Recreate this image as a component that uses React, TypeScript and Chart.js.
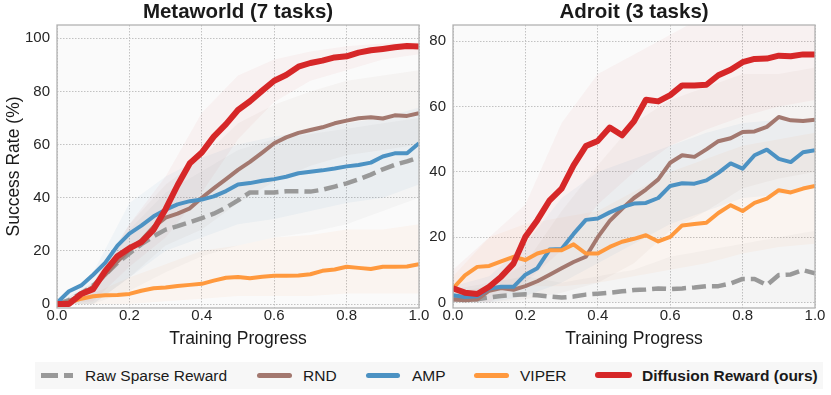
import React, { useEffect, useRef } from "react";
import { Chart, registerables } from "chart.js";

Chart.register(...registerables);

const FONT = "'Liberation Sans', Arial, Helvetica, sans-serif";

// ---------- shared axes / labels ----------
const PROGRESS = [
  0, 0.033, 0.067, 0.1, 0.133, 0.167, 0.2, 0.233, 0.267, 0.3, 0.333, 0.367, 0.4, 0.433, 0.467, 0.5,
  0.533, 0.567, 0.6, 0.633, 0.667, 0.7, 0.733, 0.767, 0.8, 0.833, 0.867, 0.9, 0.933, 0.967, 1.0,
];
const BAND_PROGRESS = [0, 0.1, 0.2, 0.3, 0.4, 0.5, 0.6, 0.7, 0.8, 0.9, 1.0];
const X_TICKS = [0, 0.2, 0.4, 0.6, 0.8, 1.0];
const MW_Y_TICKS = [0, 20, 40, 60, 80, 100];
const AD_Y_TICKS = [0, 20, 40, 60, 80];

const SERIES_LABELS = ["Raw Sparse Reward", "RND", "AMP", "VIPER", "Diffusion Reward (ours)"];
const SERIES_COLORS = ["#999999", "#a3786f", "#4c92c3", "#ff993e", "#d62728"];
const SERIES_RGB = ["127,127,127", "140,86,75", "31,119,180", "255,127,14", "214,39,40"];

// ---------- Metaworld (7 tasks) ----------
const MW_SPARSE = [0, 1.5, 4, 7, 11, 15.5, 19, 22.5, 25.5, 28, 29.3, 30.8, 32.3, 34, 36.3, 39, 42, 42, 42, 42.4, 42.4, 42.3, 43, 44.2, 45.4, 46.9, 48.7, 50.7, 52.4, 53.7, 55.2];
const MW_RND = [0, 1, 3.5, 6.5, 11, 16, 20.5, 24, 29, 32.5, 34, 36, 40, 43.5, 47, 50.5, 53.5, 57, 60.5, 62.7, 64.4, 65.5, 66.5, 68, 69, 69.9, 70.3, 69.8, 71, 70.8, 71.8];
const MW_AMP = [0.5, 4.8, 7, 11, 15.5, 22, 26.5, 29.5, 33, 35.5, 37.5, 38.7, 39.3, 40.5, 42.5, 45, 45.5, 46.4, 47, 47.9, 49.2, 49.8, 50.3, 51, 51.8, 52.3, 53.2, 55.5, 56.7, 56.7, 60.5];
const MW_VIPER = [0, 0.5, 2, 2.9, 3.3, 3.4, 3.8, 5, 5.9, 6.2, 6.8, 7.2, 7.6, 8.8, 9.9, 10.2, 9.7, 10.3, 10.6, 10.6, 10.7, 11.2, 12.5, 13, 14, 13.6, 13.2, 14, 14, 14.1, 15];
const MW_DIFF = [0, 0, 3.8, 5.6, 12.4, 18, 21, 23.3, 28, 35.7, 44.7, 53, 57, 63, 67.7, 73, 76.3, 80.3, 84, 86.2, 89.3, 90.7, 91.6, 92.8, 93.2, 94.6, 95.5, 96, 96.6, 97.1, 96.9];

const MW_SPARSE_LO = [0, 0, 5, 12, 18, 22, 25, 27, 30, 35, 40];
const MW_SPARSE_HI = [0, 6, 28, 42, 50, 58, 62, 64, 66, 68, 70];
const MW_RND_LO = [0, 0, 10, 22, 28, 38, 46, 52, 56, 58, 60];
const MW_RND_HI = [0, 8, 30, 45, 55, 68, 75, 80, 84, 86, 88];
const MW_AMP_LO = [0, 0, 10, 20, 25, 30, 32, 35, 38, 40, 45];
const MW_AMP_HI = [0, 12, 38, 48, 55, 60, 63, 65, 68, 70, 74];
const MW_VIPER_LO = [0, 0, 0, 1, 2, 3, 3, 3, 4, 4, 4];
const MW_VIPER_HI = [0, 4, 10, 15, 20, 22, 25, 26, 28, 28, 30];
const MW_DIFF_LO = [0, 1, 14, 25, 42, 62, 76, 84, 88, 92, 94];
const MW_DIFF_HI = [0, 8, 30, 48, 72, 86, 92, 95, 97, 98, 98.5];

// ---------- Adroit (3 tasks) ----------
const AD_SPARSE = [1, 1.2, 1, 1.5, 2, 2.3, 2.5, 2.2, 1.8, 1.5, 1.8, 2.4, 2.7, 3, 3.4, 3.8, 4, 4.3, 4.1, 4.3, 4.6, 5, 5, 5.8, 7.2, 7.2, 5.3, 8.4, 8.6, 9.9, 8.9];
const AD_RND = [0.9, 0.7, 0.9, 3.6, 4.4, 3.9, 5, 6.5, 8.5, 10.5, 12.4, 14, 20, 25, 28.7, 32, 34.6, 37.7, 42.8, 45.1, 44.6, 46.9, 49.4, 50.3, 52.2, 52.4, 53.8, 56.8, 55.8, 55.6, 56];
const AD_AMP = [2.2, 1.7, 1.9, 4.3, 4.8, 4.8, 8.5, 10.5, 16.2, 16.4, 21, 25.3, 25.7, 27.6, 29.2, 30.3, 30.5, 32, 35.7, 36.5, 36.4, 37.4, 39.7, 42.6, 41, 45.1, 46.8, 44, 43, 46, 46.6];
const AD_VIPER = [4.3, 8.3, 10.9, 11.2, 12.6, 14, 13, 15, 16, 16, 17.8, 15, 15, 17, 18.6, 19.5, 20.6, 18.7, 20.1, 23.6, 24, 24.4, 27.4, 29.8, 28, 30.5, 31.8, 34.4, 33.7, 34.9, 35.7];
const AD_DIFF = [4.3, 3, 2.6, 4.8, 7.9, 11.9, 20.1, 25.2, 31.3, 34.9, 42, 47.9, 49.5, 53.6, 51.2, 55.5, 62.1, 61.6, 63.5, 66.5, 66.5, 66.7, 69.6, 71.3, 73.6, 74.6, 74.7, 75.6, 75.4, 76, 76];

const AD_SPARSE_LO = [0, 0, 0, 0, 0, 0, 0, 0, 0, 0, 0];
const AD_SPARSE_HI = [4, 6, 8, 6, 8, 10, 14, 16, 18, 20, 22];
const AD_RND_LO = [0, 0, 1, 3, 6, 12, 22, 28, 35, 38, 40];
const AD_RND_HI = [3, 5, 12, 28, 42, 55, 62, 66, 70, 70, 72];
const AD_AMP_LO = [0, 0, 2, 6, 12, 18, 24, 28, 32, 33, 35];
const AD_AMP_HI = [5, 8, 18, 32, 40, 44, 48, 52, 55, 56, 56];
const AD_VIPER_LO = [1, 3, 5, 5, 6, 8, 10, 12, 15, 17, 18];
const AD_VIPER_HI = [8, 20, 24, 26, 28, 34, 40, 44, 48, 50, 52];
const AD_DIFF_LO = [1, 0, 6, 16, 30, 40, 48, 53, 57, 60, 62];
const AD_DIFF_HI = [10, 20, 30, 55, 70, 76, 82, 88, 92, 93, 94];

const MW_MEANS = [MW_SPARSE, MW_RND, MW_AMP, MW_VIPER, MW_DIFF];
const MW_LOWS = [MW_SPARSE_LO, MW_RND_LO, MW_AMP_LO, MW_VIPER_LO, MW_DIFF_LO];
const MW_HIGHS = [MW_SPARSE_HI, MW_RND_HI, MW_AMP_HI, MW_VIPER_HI, MW_DIFF_HI];
const AD_MEANS = [AD_SPARSE, AD_RND, AD_AMP, AD_VIPER, AD_DIFF];
const AD_LOWS = [AD_SPARSE_LO, AD_RND_LO, AD_AMP_LO, AD_VIPER_LO, AD_DIFF_LO];
const AD_HIGHS = [AD_SPARSE_HI, AD_RND_HI, AD_AMP_HI, AD_VIPER_HI, AD_DIFF_HI];

const toPoints = (xs: number[], ys: number[]) => ys.map((y, i) => ({ x: xs[i], y }));

function buildDatasets(means: number[][], lows: number[][], highs: number[][]) {
  const ds: any[] = [];
  for (let k = 0; k < means.length; k++) {
    ds.push({
      data: toPoints(BAND_PROGRESS, lows[k]),
      borderWidth: 0,
      pointRadius: 0,
      fill: false,
      order: 20 + k,
    });
    ds.push({
      data: toPoints(BAND_PROGRESS, highs[k]),
      borderWidth: 0,
      pointRadius: 0,
      fill: "-1",
      backgroundColor: `rgba(${SERIES_RGB[k]},0.045)`,
      order: 20 + k,
    });
  }
  for (let k = 0; k < means.length; k++) {
    ds.push({
      label: SERIES_LABELS[k],
      data: toPoints(PROGRESS, means[k]),
      borderColor: SERIES_COLORS[k],
      borderWidth: k === 4 ? 6 : k === 0 ? 4.5 : 4,
      borderDash: k === 0 ? [14, 6] : [],
      borderJoinStyle: "round",
      borderCapStyle: "butt",
      pointRadius: 0,
      fill: false,
      tension: 0,
      order: 5 - k,
    });
  }
  return ds;
}

const framePlugin = {
  id: "frame",
  beforeDraw(chart: any) {
    const { ctx, chartArea: a } = chart;
    ctx.save();
    ctx.fillStyle = "#fafafa";
    ctx.fillRect(a.left, a.top, a.right - a.left, a.bottom - a.top);
    ctx.restore();
  },
  afterDraw(chart: any) {
    const { ctx, chartArea: a } = chart;
    ctx.save();
    ctx.strokeStyle = "#b3b3b3";
    ctx.lineWidth = 1.3;
    ctx.strokeRect(a.left, a.top, a.right - a.left, a.bottom - a.top);
    ctx.restore();
  },
};

interface PanelProps {
  title: string;
  means: number[][];
  lows: number[][];
  highs: number[][];
  yTicks: number[];
  yMin: number;
  yMax: number;
  yTitle: string | null;
  width: number;
  height: number;
  yAxisWidth: number;
  rightPad: number;
  left: number;
}

function Panel(p: PanelProps) {
  const ref = useRef<HTMLCanvasElement | null>(null);
  useEffect(() => {
    if (!ref.current) return;
    const tickColor = "#262626";
    const chart = new Chart(ref.current, {
      type: "line",
      data: { datasets: buildDatasets(p.means, p.lows, p.highs) },
      plugins: [framePlugin],
      options: {
        animation: false,
        responsive: false,
        maintainAspectRatio: false,
        devicePixelRatio: 1,
        layout: { padding: { left: 0, right: p.rightPad, top: 0, bottom: 0 } },
        plugins: {
          legend: { display: false },
          tooltip: { enabled: false },
          title: {
            display: true,
            text: p.title,
            fullSize: false,
            color: "#1a1a1a",
            font: { family: FONT, size: 20.5, weight: "bold", lineHeight: 1.2 },
            padding: { top: 0.4, bottom: 0 },
          },
        },
        scales: {
          x: {
            type: "linear",
            min: 0,
            max: 1,
            afterBuildTicks: (s: any) => {
              s.ticks = X_TICKS.map((v) => ({ value: v }));
            },
            afterFit: (s: any) => {
              s.height = 42;
            },
            ticks: {
              autoSkip: false,
              maxRotation: 0,
              padding: 0,
              color: tickColor,
              font: { family: FONT, size: 15, lineHeight: 1 },
              callback: (v: any) => Number(v).toFixed(1),
            },
            grid: { color: "#c2c2c2", lineWidth: 1, drawTicks: false },
            border: { display: false, dash: [1.5, 1.5] },
            title: {
              display: true,
              text: "Training Progress",
              color: "#1a1a1a",
              font: { family: FONT, size: 17.5, lineHeight: 1.2 },
              padding: { top: 0, bottom: 0 },
            },
          },
          y: {
            type: "linear",
            min: p.yMin,
            max: p.yMax,
            afterBuildTicks: (s: any) => {
              s.ticks = p.yTicks.map((v) => ({ value: v }));
            },
            afterFit: (s: any) => {
              s.width = p.yAxisWidth;
            },
            ticks: {
              autoSkip: false,
              padding: 7,
              color: tickColor,
              font: { family: FONT, size: 15 },
              callback: (v: any) => String(v),
            },
            grid: { color: "#c2c2c2", lineWidth: 1, drawTicks: false },
            border: { display: false, dash: [1.5, 1.5] },
            title: {
              display: !!p.yTitle,
              text: p.yTitle || "",
              color: "#1a1a1a",
              font: { family: FONT, size: 17.5, lineHeight: 1.2 },
              padding: { top: 4, bottom: 0 },
            },
          },
        },
      } as any,
    });
    return () => chart.destroy();
  }, []);
  return (
    <canvas
      ref={ref}
      width={p.width}
      height={p.height}
      style={{ position: "absolute", left: p.left, top: 0, width: p.width, height: p.height }}
    />
  );
}

function Legend() {
  const swatchLefts = [41, 257, 366, 474, 595];
  const textLefts = [85, 303, 412, 520, 642];
  const swatchWidths = [32, 35, 34, 35, 37];
  return (
    <div
      style={{
        position: "absolute",
        left: 35,
        top: 362,
        width: 788,
        height: 27,
        background: "#f7f7f7",
      }}
    >
      {SERIES_LABELS.map((label, k) => (
        <React.Fragment key={label}>
          {k === 0 ? (
            <>
              <div style={{ position: "absolute", left: swatchLefts[k] - 35, top: 11, width: 17, height: 4.5, background: SERIES_COLORS[k] }} />
              <div style={{ position: "absolute", left: swatchLefts[k] - 35 + 23, top: 11, width: 9, height: 4.5, background: SERIES_COLORS[k] }} />
            </>
          ) : (
            <div
              style={{
                position: "absolute",
                left: swatchLefts[k] - 35,
                top: k === 4 ? 10 : 11,
                width: swatchWidths[k],
                height: k === 4 ? 6 : 4.5,
                borderRadius: 3,
                background: SERIES_COLORS[k],
              }}
            />
          )}
          <span
            style={{
              position: "absolute",
              left: textLefts[k] - 35,
              top: 0,
              height: 27,
              lineHeight: "27px",
              fontFamily: FONT,
              fontSize: 15.5,
              fontWeight: k === 4 ? "bold" : "normal",
              color: "#1a1a1a",
              whiteSpace: "nowrap",
            }}
          >
            {label}
          </span>
        </React.Fragment>
      ))}
    </div>
  );
}

export default function App() {
  return (
    <div style={{ position: "absolute", left: 0, top: 0, width: 831, height: 395, background: "#ffffff", overflow: "hidden" }}>
      <Panel
        title="Metaworld (7 tasks)"
        means={MW_MEANS}
        lows={MW_LOWS}
        highs={MW_HIGHS}
        yTicks={MW_Y_TICKS}
        yMin={-1.5}
        yMax={105}
        yTitle="Success Rate (%)"
        width={440}
        height={350}
        yAxisWidth={57}
        rightPad={21}
        left={0}
      />
      <Panel
        title="Adroit (3 tasks)"
        means={AD_MEANS}
        lows={AD_LOWS}
        highs={AD_HIGHS}
        yTicks={AD_Y_TICKS}
        yMin={-1.7}
        yMax={85}
        yTitle={null}
        width={411}
        height={350}
        yAxisWidth={33}
        rightPad={16}
        left={420}
      />
      <Legend />
    </div>
  );
}
